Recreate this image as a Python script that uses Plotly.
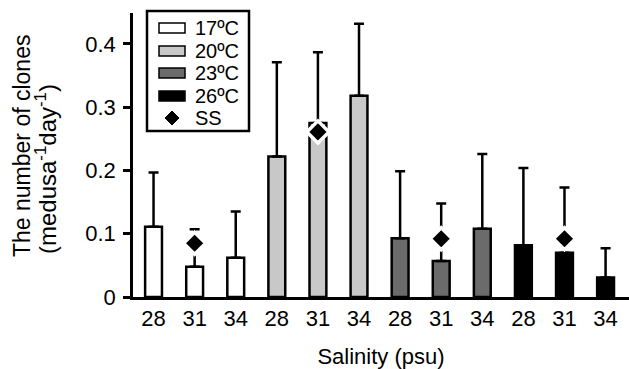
import plotly.graph_objects as go

# ---------------- data ----------------
temperatures = ["17ºC", "20ºC", "23ºC", "26ºC"]
salinity_labels = ["28", "31", "34"]

mean_17 = [0.111, 0.048, 0.062]
mean_20 = [0.222, 0.275, 0.318]
mean_23 = [0.093, 0.057, 0.108]
mean_26 = [0.082, 0.070, 0.031]

err_top_17 = [0.197, 0.107, 0.135]
err_top_20 = [0.371, 0.387, 0.432]
err_top_23 = [0.199, 0.148, 0.226]
err_top_26 = [0.204, 0.173, 0.077]

ss_label = "SS"
ss_values = [0.085, 0.261, 0.092, 0.092]   # SS at salinity 31 for each temperature

x_axis_title = "Salinity (psu)"
y_title_line1 = "The number of clones"
y_title_line2 = "(medusa<sup>-1</sup>day<sup>-1</sup>)"

# ---------------- style ----------------
bar_colors = ["#ffffff", "#c8c8c8", "#6b6b6b", "#000000"]
FONT = "Liberation Sans, Arial, sans-serif"
W, H = 629, 369
ML, MR, MT, MB = 133, 0, 13, 72
PW, PH = W - ML - MR, H - MT - MB

def px_x(p):
    return (p - ML) / PW

def px_y(p):
    return (H - MB - p) / PH

means = [mean_17, mean_20, mean_23, mean_26]
tops = [err_top_17, err_top_20, err_top_23, err_top_26]
n_s = len(salinity_labels)

fig = go.Figure()
for ti, temp in enumerate(temperatures):
    xs = [ti * n_s + si for si in range(n_s)]
    errs = [t - m for t, m in zip(tops[ti], means[ti])]
    fig.add_trace(go.Bar(
        x=xs, y=means[ti], name=temp, width=0.41,
        marker=dict(color=bar_colors[ti], line=dict(color="black", width=2.5)),
        error_y=dict(type="data", array=errs, arrayminus=[0] * n_s, symmetric=False,
                     color="black", thickness=2.5, width=5),
        showlegend=False,
    ))

ss_x = [ti * n_s + salinity_labels.index("31") for ti in range(len(temperatures))]
fig.add_trace(go.Scatter(
    x=ss_x, y=ss_values, mode="markers", name=ss_label, showlegend=False,
    marker=dict(symbol="diamond", size=17, color="black", line=dict(color="white", width=3.5)),
))

# ---------------- manual legend ----------------
shapes = []
annotations = []
shapes.append(dict(type="rect", xref="paper", yref="paper",
                   x0=px_x(147), x1=px_x(249), y0=px_y(131), y1=px_y(11),
                   line=dict(color="black", width=2.5), fillcolor="white", layer="above"))
row_y = [28, 51, 73, 96, 118]
for i, temp in enumerate(temperatures):
    cy = row_y[i]
    shapes.append(dict(type="rect", xref="paper", yref="paper",
                       x0=px_x(159), x1=px_x(185), y0=px_y(cy + 5), y1=px_y(cy - 5),
                       line=dict(color="black", width=1.5), fillcolor=bar_colors[i], layer="above"))
    annotations.append(dict(text=temp, xref="paper", yref="paper", x=px_x(193), y=px_y(cy),
                            xanchor="left", yanchor="middle", showarrow=False,
                            font=dict(size=20, color="black", family=FONT)))
cy = row_y[4]
cx = 172
d = 7
shapes.append(dict(type="path", xref="paper", yref="paper",
                   path=f"M {px_x(cx)},{px_y(cy - d)} L {px_x(cx + d)},{px_y(cy)} L {px_x(cx)},{px_y(cy + d)} L {px_x(cx - d)},{px_y(cy)} Z",
                   fillcolor="black", line=dict(color="black", width=1), layer="above"))
annotations.append(dict(text=ss_label, xref="paper", yref="paper", x=px_x(193), y=px_y(cy),
                        xanchor="left", yanchor="middle", showarrow=False,
                        font=dict(size=20, color="black", family=FONT)))

# y title (two rotated lines)
annotations.append(dict(text=y_title_line1, xref="paper", yref="paper", x=px_x(22), y=px_y(259),
                        xanchor="center", yanchor="bottom", textangle=-90, showarrow=False,
                        font=dict(size=23, color="black", family=FONT)))
annotations.append(dict(text=y_title_line2, xref="paper", yref="paper", x=px_x(46), y=px_y(256),
                        xanchor="center", yanchor="bottom", textangle=-90, showarrow=False,
                        font=dict(size=24, color="black", family=FONT)))

fig.update_layout(
    width=W, height=H,
    margin=dict(l=ML, r=MR, t=MT, b=MB),
    paper_bgcolor="white", plot_bgcolor="white",
    font=dict(family=FONT, color="black", size=22),
    bargap=0.5,
    shapes=shapes, annotations=annotations,
    xaxis=dict(
        range=[-0.5, 11.57], tickvals=list(range(len(temperatures) * n_s)),
        ticktext=salinity_labels * len(temperatures),
        showline=True, linecolor="black", linewidth=2.5, ticks="", showgrid=False,
        zeroline=False, tickfont=dict(size=22),
        title=dict(text=x_axis_title, font=dict(size=22), standoff=23),
    ),
    yaxis=dict(
        range=[0, 0.449], tickvals=[0, 0.1, 0.2, 0.3, 0.4], ticktext=["0", "0.1", "0.2", "0.3", "0.4"],
        showline=True, linecolor="black", linewidth=2.5, ticks="outside", ticklen=7,
        tickwidth=2.5, tickcolor="black", showgrid=False, zeroline=False, tickfont=dict(size=22),
        ticklabelstandoff=3,
    ),
)

fig.write_html("out.html", config={"displayModeBar": False},
               post_script="document.body.style.margin='0';document.body.style.overflow='hidden';")
